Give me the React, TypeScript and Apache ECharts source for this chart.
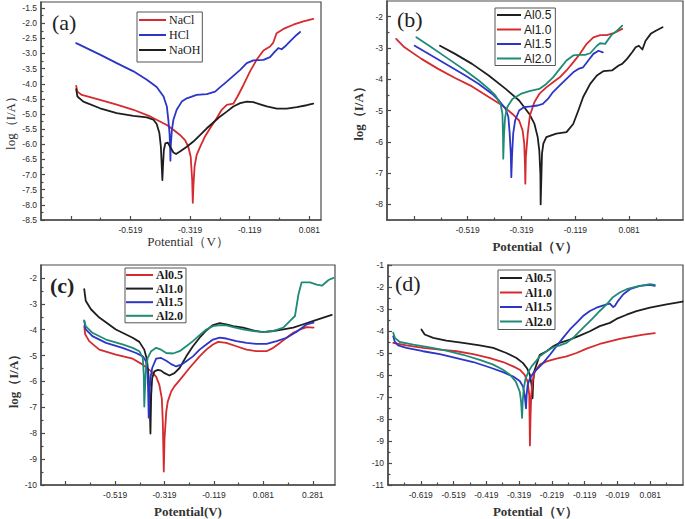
import React, { useEffect, useRef } from 'react';
import * as echarts from 'echarts';

// ---------- data: [potential (V), log(I/A)] ----------
const aNaCl = [[-0.701,-4.07],[-0.697,-4.26],[-0.682,-4.37],[-0.621,-4.53],[-0.565,-4.69],[-0.509,-4.86],[-0.453,-5.08],[-0.397,-5.36],[-0.375,-5.52],[-0.353,-5.69],[-0.336,-5.86],[-0.325,-6.08],[-0.317,-6.41],[-0.312,-7.18],[-0.310,-7.93],[-0.308,-7.40],[-0.304,-6.74],[-0.297,-6.35],[-0.285,-6.08],[-0.269,-5.74],[-0.252,-5.47],[-0.230,-5.14],[-0.213,-4.86],[-0.196,-4.70],[-0.174,-4.66],[-0.160,-4.42],[-0.140,-4.04],[-0.118,-3.59],[-0.096,-3.21],[-0.073,-2.90],[-0.051,-2.77],[-0.040,-2.64],[-0.029,-2.33],[-0.006,-2.19],[0.027,-2.05],[0.061,-1.94],[0.094,-1.86]];
const aHCl = [[-0.701,-2.66],[-0.621,-3.04],[-0.565,-3.32],[-0.509,-3.59],[-0.464,-3.87],[-0.431,-4.11],[-0.408,-4.42],[-0.397,-4.75],[-0.392,-5.19],[-0.388,-5.63],[-0.386,-6.08],[-0.385,-6.54],[-0.384,-6.08],[-0.380,-5.52],[-0.375,-5.19],[-0.364,-4.86],[-0.347,-4.59],[-0.330,-4.48],[-0.297,-4.37],[-0.263,-4.34],[-0.235,-4.26],[-0.218,-4.11],[-0.196,-3.93],[-0.174,-3.74],[-0.151,-3.54],[-0.129,-3.32],[-0.107,-3.23],[-0.073,-3.21],[-0.051,-3.12],[-0.034,-2.93],[-0.023,-2.82],[-0.012,-2.86],[-0.001,-2.77],[0.016,-2.60],[0.039,-2.38],[0.050,-2.29]];
const aNaOH = [[-0.701,-4.18],[-0.697,-4.42],[-0.677,-4.59],[-0.621,-4.81],[-0.565,-4.97],[-0.509,-5.06],[-0.464,-5.11],[-0.442,-5.19],[-0.431,-5.33],[-0.422,-5.63],[-0.417,-6.08],[-0.414,-6.74],[-0.412,-7.18],[-0.410,-6.74],[-0.407,-6.19],[-0.402,-5.97],[-0.394,-5.94],[-0.386,-6.08],[-0.375,-6.27],[-0.366,-6.32],[-0.353,-6.24],[-0.330,-6.08],[-0.308,-5.91],[-0.285,-5.69],[-0.263,-5.47],[-0.241,-5.28],[-0.218,-5.08],[-0.196,-4.92],[-0.174,-4.75],[-0.151,-4.64],[-0.129,-4.59],[-0.107,-4.61],[-0.084,-4.68],[-0.062,-4.75],[-0.028,-4.82],[0.005,-4.82],[0.039,-4.77],[0.072,-4.71],[0.094,-4.66]];

const bAl05 = [[-0.622,-2.93],[-0.566,-3.19],[-0.503,-3.51],[-0.441,-3.88],[-0.378,-4.31],[-0.328,-4.68],[-0.290,-5.11],[-0.271,-5.43],[-0.259,-5.85],[-0.253,-6.28],[-0.249,-7.02],[-0.248,-8.0],[-0.245,-7.02],[-0.243,-6.38],[-0.238,-6.06],[-0.227,-5.85],[-0.190,-5.74],[-0.152,-5.69],[-0.127,-5.43],[-0.108,-5.0],[-0.090,-4.57],[-0.064,-4.15],[-0.039,-3.88],[-0.014,-3.74],[0.017,-3.72],[0.042,-3.56],[0.055,-3.51],[0.073,-3.35],[0.092,-3.14],[0.105,-2.98],[0.117,-2.93],[0.130,-3.05],[0.142,-2.77],[0.161,-2.55],[0.180,-2.45],[0.205,-2.34]];
const bAl10 = [[-0.785,-2.71],[-0.754,-2.98],[-0.691,-3.35],[-0.629,-3.67],[-0.566,-3.96],[-0.503,-4.23],[-0.441,-4.57],[-0.390,-4.84],[-0.353,-5.11],[-0.328,-5.32],[-0.315,-5.64],[-0.309,-6.06],[-0.306,-6.81],[-0.305,-7.34],[-0.303,-6.49],[-0.296,-5.74],[-0.288,-5.16],[-0.271,-4.73],[-0.253,-4.47],[-0.227,-4.26],[-0.202,-4.10],[-0.177,-3.94],[-0.152,-3.72],[-0.127,-3.46],[-0.102,-3.19],[-0.077,-2.87],[-0.052,-2.66],[-0.027,-2.59],[-0.002,-2.59],[0.023,-2.53],[0.055,-2.39]];
const bAl15 = [[-0.716,-2.93],[-0.654,-3.24],[-0.591,-3.56],[-0.528,-3.88],[-0.478,-4.15],[-0.428,-4.47],[-0.403,-4.68],[-0.378,-4.95],[-0.368,-5.21],[-0.363,-5.74],[-0.359,-6.38],[-0.357,-7.13],[-0.354,-6.38],[-0.350,-5.74],[-0.343,-5.32],[-0.328,-5.0],[-0.309,-4.89],[-0.284,-4.87],[-0.259,-4.84],[-0.240,-4.79],[-0.221,-4.63],[-0.202,-4.41],[-0.177,-4.20],[-0.152,-3.99],[-0.127,-3.78],[-0.108,-3.67],[-0.090,-3.62],[-0.071,-3.40],[-0.052,-3.19],[-0.033,-3.09],[-0.017,-3.14]];
const bAl20 = [[-0.710,-2.66],[-0.654,-2.98],[-0.591,-3.35],[-0.528,-3.72],[-0.478,-4.04],[-0.441,-4.31],[-0.416,-4.52],[-0.397,-4.79],[-0.390,-5.11],[-0.388,-5.74],[-0.387,-6.54],[-0.384,-5.74],[-0.380,-5.21],[-0.372,-4.89],[-0.353,-4.63],[-0.322,-4.47],[-0.290,-4.38],[-0.253,-4.31],[-0.227,-4.15],[-0.202,-3.94],[-0.177,-3.67],[-0.152,-3.40],[-0.127,-3.24],[-0.108,-3.22],[-0.083,-3.22],[-0.064,-3.17],[-0.039,-2.93],[-0.027,-2.85],[-0.008,-2.87],[0.005,-2.71],[0.017,-2.57],[0.036,-2.45],[0.055,-2.29]];

const cAl05 = [[-0.644,-3.86],[-0.640,-4.18],[-0.624,-4.44],[-0.583,-4.77],[-0.516,-4.96],[-0.448,-5.12],[-0.407,-5.35],[-0.373,-5.61],[-0.353,-5.81],[-0.340,-6.13],[-0.330,-6.65],[-0.326,-7.56],[-0.322,-9.48],[-0.319,-8.21],[-0.312,-7.17],[-0.306,-6.78],[-0.292,-6.39],[-0.279,-6.19],[-0.251,-5.87],[-0.218,-5.48],[-0.177,-5.03],[-0.150,-4.77],[-0.123,-4.57],[-0.102,-4.47],[-0.069,-4.51],[-0.028,-4.64],[0.013,-4.77],[0.053,-4.83],[0.094,-4.83],[0.121,-4.70],[0.148,-4.51],[0.175,-4.31],[0.202,-4.12],[0.230,-3.99],[0.257,-3.90],[0.284,-3.92]];
const cAl10 = [[-0.644,-2.43],[-0.638,-2.88],[-0.617,-3.21],[-0.583,-3.53],[-0.516,-3.99],[-0.448,-4.31],[-0.421,-4.47],[-0.401,-4.77],[-0.390,-5.16],[-0.384,-5.74],[-0.380,-6.52],[-0.376,-8.01],[-0.373,-6.52],[-0.369,-5.87],[-0.360,-5.61],[-0.346,-5.55],[-0.333,-5.58],[-0.319,-5.68],[-0.299,-5.77],[-0.279,-5.68],[-0.258,-5.48],[-0.231,-5.03],[-0.204,-4.64],[-0.177,-4.31],[-0.150,-4.03],[-0.123,-3.82],[-0.096,-3.75],[-0.069,-3.79],[-0.041,-3.86],[-0.001,-3.92],[0.040,-4.03],[0.080,-4.09],[0.121,-4.05],[0.162,-3.99],[0.202,-3.92],[0.243,-3.79],[0.284,-3.66],[0.324,-3.53],[0.358,-3.43]];
const cAl15 = [[-0.644,-3.66],[-0.638,-3.99],[-0.611,-4.25],[-0.556,-4.51],[-0.489,-4.70],[-0.434,-4.90],[-0.407,-5.03],[-0.394,-5.22],[-0.387,-5.74],[-0.385,-6.52],[-0.383,-7.40],[-0.380,-6.52],[-0.376,-5.87],[-0.369,-5.48],[-0.353,-5.12],[-0.333,-5.09],[-0.312,-5.20],[-0.292,-5.33],[-0.272,-5.42],[-0.251,-5.35],[-0.231,-5.22],[-0.204,-5.03],[-0.177,-4.77],[-0.150,-4.57],[-0.123,-4.38],[-0.096,-4.31],[-0.069,-4.34],[-0.028,-4.44],[0.013,-4.51],[0.053,-4.55],[0.094,-4.55],[0.135,-4.44],[0.175,-4.31],[0.216,-4.08],[0.257,-3.79],[0.284,-3.73]];
const cAl20 = [[-0.644,-3.64],[-0.638,-3.86],[-0.611,-4.12],[-0.556,-4.38],[-0.489,-4.57],[-0.448,-4.70],[-0.421,-4.83],[-0.407,-5.09],[-0.403,-5.74],[-0.401,-6.97],[-0.398,-6.26],[-0.394,-5.48],[-0.387,-5.09],[-0.373,-4.83],[-0.353,-4.70],[-0.333,-4.77],[-0.312,-4.90],[-0.285,-4.92],[-0.258,-4.83],[-0.231,-4.64],[-0.204,-4.44],[-0.177,-4.21],[-0.150,-3.99],[-0.123,-3.86],[-0.096,-3.82],[-0.069,-3.83],[-0.041,-3.90],[-0.001,-3.99],[0.040,-4.05],[0.080,-4.09],[0.121,-4.05],[0.162,-3.92],[0.189,-3.66],[0.209,-3.47],[0.223,-2.64],[0.236,-2.17],[0.270,-2.17],[0.297,-2.26],[0.318,-2.30],[0.345,-2.08],[0.365,-2.00]];

const dAl05 = [[-0.617,-3.93],[-0.607,-4.16],[-0.581,-4.31],[-0.541,-4.44],[-0.490,-4.54],[-0.439,-4.65],[-0.398,-4.77],[-0.358,-5.0],[-0.327,-5.23],[-0.307,-5.46],[-0.295,-5.69],[-0.286,-5.99],[-0.281,-6.45],[-0.278,-7.06],[-0.276,-6.30],[-0.273,-5.84],[-0.266,-5.53],[-0.256,-5.08],[-0.235,-4.92],[-0.215,-4.69],[-0.195,-4.54],[-0.164,-4.39],[-0.134,-4.21],[-0.103,-4.01],[-0.073,-3.78],[-0.042,-3.63],[-0.022,-3.45],[0.009,-3.26],[0.039,-3.10],[0.080,-2.94],[0.131,-2.79],[0.180,-2.66]];
const dAl10 = [[-0.703,-4.54],[-0.663,-4.65],[-0.612,-4.77],[-0.561,-4.85],[-0.510,-4.92],[-0.459,-5.05],[-0.408,-5.23],[-0.368,-5.41],[-0.337,-5.61],[-0.317,-5.76],[-0.302,-5.99],[-0.293,-6.30],[-0.288,-6.91],[-0.286,-9.20],[-0.284,-7.82],[-0.282,-6.91],[-0.278,-6.30],[-0.271,-5.84],[-0.256,-5.53],[-0.235,-5.38],[-0.205,-5.26],[-0.174,-5.15],[-0.144,-5.00],[-0.113,-4.80],[-0.073,-4.59],[-0.042,-4.47],[-0.012,-4.36],[0.029,-4.24],[0.060,-4.16],[0.095,-4.10]];
const dAl15 = [[-0.703,-4.24],[-0.698,-4.50],[-0.688,-4.65],[-0.663,-4.77],[-0.612,-4.92],[-0.561,-5.05],[-0.510,-5.23],[-0.459,-5.41],[-0.408,-5.66],[-0.368,-5.87],[-0.337,-6.07],[-0.317,-6.27],[-0.307,-6.53],[-0.302,-6.91],[-0.298,-7.52],[-0.296,-6.91],[-0.293,-6.45],[-0.286,-6.15],[-0.276,-5.92],[-0.261,-5.69],[-0.246,-5.46],[-0.225,-5.08],[-0.205,-4.69],[-0.185,-4.31],[-0.164,-3.93],[-0.144,-3.63],[-0.124,-3.32],[-0.103,-3.09],[-0.083,-2.94],[-0.052,-2.79],[-0.042,-2.76],[-0.032,-2.91],[-0.027,-2.86],[-0.017,-2.63],[-0.001,-2.33],[0.019,-2.10],[0.049,-1.95],[0.080,-1.90],[0.095,-1.95]];
const dAl20 = [[-0.703,-4.08],[-0.698,-4.31],[-0.683,-4.50],[-0.642,-4.62],[-0.592,-4.74],[-0.541,-4.89],[-0.490,-5.08],[-0.439,-5.31],[-0.398,-5.53],[-0.368,-5.76],[-0.347,-5.99],[-0.329,-6.30],[-0.317,-6.76],[-0.313,-7.21],[-0.310,-7.95],[-0.308,-7.21],[-0.305,-6.60],[-0.299,-6.15],[-0.290,-5.84],[-0.281,-5.61],[-0.268,-5.38],[-0.256,-5.15],[-0.235,-4.92],[-0.215,-4.74],[-0.195,-4.65],[-0.174,-4.54],[-0.154,-4.31],[-0.134,-4.01],[-0.113,-3.70],[-0.093,-3.40],[-0.073,-3.09],[-0.052,-2.79],[-0.032,-2.45],[-0.012,-2.25],[0.009,-2.10],[0.039,-1.98],[0.080,-1.87],[0.095,-1.90]];

// ---------- tick values ----------
const aXMajor = [-0.719, -0.519, -0.319, -0.119, 0.081];
const aXLabels = [-0.519, -0.319, -0.119, 0.081];
const aXMinor = [-0.619, -0.419, -0.219, -0.019];
const aYMajor = [-8.5, -8.0, -7.5, -7.0, -6.5, -6.0, -5.5, -5.0, -4.5, -4.0, -3.5, -3.0, -2.5, -2.0, -1.5];
const aYMinor = [-8.25, -7.75, -7.25, -6.75, -6.25, -5.75, -5.25, -4.75, -4.25, -3.75, -3.25, -2.75, -2.25, -1.75];

const bXMajor = [-0.719, -0.519, -0.319, -0.119, 0.081];
const bXLabels = [-0.519, -0.319, -0.119, 0.081];
const bXMinor = [-0.619, -0.419, -0.219, -0.019, 0.181];
const bYMajor = [-8, -7, -6, -5, -4, -3, -2];
const bYMinor = [-7.5, -6.5, -5.5, -4.5, -3.5, -2.5];

const cXMajor = [-0.719, -0.519, -0.319, -0.119, 0.081, 0.281];
const cXLabels = [-0.519, -0.319, -0.119, 0.081, 0.281];
const cXMinor = [-0.619, -0.419, -0.219, -0.019, 0.181];
const cYMajor = [-10, -9, -8, -7, -6, -5, -4, -3, -2];
const cYMinor = [-9.5, -8.5, -7.5, -6.5, -5.5, -4.5, -3.5, -2.5];

const dXMajor = [-0.619, -0.519, -0.419, -0.319, -0.219, -0.119, -0.019, 0.081];
const dXLabels = [-0.619, -0.519, -0.419, -0.319, -0.219, -0.119, -0.019, 0.081];
const dXMinor = [-0.669, -0.569, -0.469, -0.369, -0.269, -0.169, -0.069, 0.031, 0.131];
const dYMajor = [-11, -10, -9, -8, -7, -6, -5, -4, -3, -2, -1];
const dYMinor = [-10.5, -9.5, -8.5, -7.5, -6.5, -5.5, -4.5, -3.5, -2.5, -1.5];

const aNames = ['NaCl', 'HCl', 'NaOH'];
const alNames = ['Al0.5', 'Al1.0', 'Al1.5', 'Al2.0'];

const RED = '#d52a2e';
const BLUE = '#2c35c6';
const BLACK = '#1e1e1e';
const TEAL = '#1f8b77';
const AX = '#4a4a4a';
const SERIF = '"Liberation Serif", "Times New Roman", serif';
const SANS = '"Liberation Sans", Arial, sans-serif';

type Panel = {
  grid: { left: number; top: number; width: number; height: number };
  xMin: number; xMax: number; xMajor: number[]; xLabels: number[]; xMinor: number[];
  yMin: number; yMax: number; yMajor: number[]; yMinor: number[]; yDigits: number;
  xName: string; xNameGap: number; xNamePad: number[];
  yName: string; yNameGap: number; yNamePad: number[];
  nameWeight: string;
};

const panels: Panel[] = [
  { grid: { left: 41, top: 2, width: 280, height: 218 }, xMin: -0.819, xMax: 0.12, xMajor: aXMajor, xLabels: aXLabels, xMinor: aXMinor,
    yMin: -8.5, yMax: -1.3, yMajor: aYMajor, yMinor: aYMinor, yDigits: 1,
    xName: 'Potential（V）', xNameGap: 15, xNamePad: [0, 0, 0, 14], yName: 'log（I/A）', yNameGap: 24, yNamePad: [0, 18, 0, 0], nameWeight: 'normal' },
  { grid: { left: 387, top: 1, width: 296, height: 219 }, xMin: -0.819, xMax: 0.281, xMajor: bXMajor, xLabels: bXLabels, xMinor: bXMinor,
    yMin: -8.5, yMax: -1.5, yMajor: bYMajor, yMinor: bYMinor, yDigits: 0,
    xName: 'Potential（V）', xNameGap: 20, xNamePad: [0, 0, 0, 0], yName: 'log（I/A）', yNameGap: 22, yNamePad: [0, 0, 0, 0], nameWeight: 'bold' },
  { grid: { left: 41, top: 265, width: 294, height: 220 }, xMin: -0.819, xMax: 0.371, xMajor: cXMajor, xLabels: cXLabels, xMinor: cXMinor,
    yMin: -10, yMax: -1.5, yMajor: cYMajor, yMinor: cYMinor, yDigits: 0,
    xName: 'Potential(V)', xNameGap: 20, xNamePad: [0, 0, 0, 0], yName: 'log（I/A）', yNameGap: 21, yNamePad: [0, 6, 0, 0], nameWeight: 'bold' },
  { grid: { left: 388, top: 265, width: 295, height: 220 }, xMin: -0.719, xMax: 0.181, xMajor: dXMajor, xLabels: dXLabels, xMinor: dXMinor,
    yMin: -11, yMax: -1, yMajor: dYMajor, yMinor: dYMinor, yDigits: 0,
    xName: 'Potential（V）', xNameGap: 20, xNamePad: [0, 0, 0, 0], yName: '', yNameGap: 20, yNamePad: [0, 0, 0, 0], nameWeight: 'bold' },
];

const panelSeries = [
  { key: 'a', names: aNames, data: [aNaCl, aHCl, aNaOH], colors: [RED, BLUE, BLACK] },
  { key: 'b', names: alNames, data: [bAl05, bAl10, bAl15, bAl20], colors: [BLACK, RED, BLUE, TEAL] },
  { key: 'c', names: alNames, data: [cAl05, cAl10, cAl15, cAl20], colors: [RED, BLACK, BLUE, TEAL] },
  { key: 'd', names: alNames, data: [dAl05, dAl10, dAl15, dAl20], colors: [BLACK, RED, BLUE, TEAL] },
];

const legendLayout = [
  { left: 137, top: 12, padding: [2, 2, 6, 2], itemWidth: 27, itemGap: 3, font: SERIF, weight: 'normal', size: 12 },
  { left: 495, top: 8, padding: [1, 4, 1, 2], itemWidth: 24, itemGap: 2.5, font: SANS, weight: 'normal', size: 12 },
  { left: 125, top: 268, padding: [1, 3, 1, 1], itemWidth: 27, itemGap: 1.6, font: SERIF, weight: 'bold', size: 12 },
  { left: 498, top: 270, padding: [2, 3, 2, 2], itemWidth: 22, itemGap: 2.5, font: SERIF, weight: 'bold', size: 12 },
];

function buildOption() {
  const grid: any[] = [];
  const xAxis: any[] = [];
  const yAxis: any[] = [];
  const series: any[] = [];
  const legend: any[] = [];

  panels.forEach((p, gi) => {
    grid.push({ ...p.grid, show: true, borderColor: AX, borderWidth: 1.2, backgroundColor: 'transparent', containLabel: false, outerBoundsMode: 'none' });
    const nameStyle = { fontFamily: SERIF, fontSize: 13, color: '#333', fontWeight: p.nameWeight };
    xAxis.push({
      type: 'value', gridIndex: gi, position: 'bottom', min: p.xMin, max: p.xMax,
      axisLine: { show: true, onZero: false, lineStyle: { color: AX, width: 1.5 } },
      axisTick: { show: true, inside: true, length: 4, customValues: p.xMajor, lineStyle: { color: AX, width: 1.2 } },
      axisLabel: { show: true, customValues: p.xLabels, formatter: (v: number) => v.toFixed(3), fontFamily: SANS, fontSize: 8.5, color: '#2a2a2a', margin: 5 },
      splitLine: { show: false },
      name: p.xName, nameLocation: 'middle', nameGap: p.xNameGap,
      nameTextStyle: { ...nameStyle, padding: p.xNamePad },
    });
    xAxis.push({
      type: 'value', gridIndex: gi, position: 'bottom', min: p.xMin, max: p.xMax,
      axisLine: { show: false, onZero: false }, axisLabel: { show: false }, splitLine: { show: false },
      axisTick: { show: true, inside: true, length: 2.5, customValues: p.xMinor, lineStyle: { color: AX, width: 1.2 } },
    });
    yAxis.push({
      type: 'value', gridIndex: gi, position: 'left', min: p.yMin, max: p.yMax,
      axisLine: { show: true, onZero: false, lineStyle: { color: AX, width: 1.5 } },
      axisTick: { show: true, inside: true, length: 4, customValues: p.yMajor, lineStyle: { color: AX, width: 1.2 } },
      axisLabel: { show: true, customValues: p.yMajor, formatter: (v: number) => v.toFixed(p.yDigits), fontFamily: SANS, fontSize: 8.5, color: '#2a2a2a', margin: 4 },
      splitLine: { show: false },
      name: p.yName, nameLocation: 'middle', nameGap: p.yNameGap, nameRotate: 90,
      nameTextStyle: { ...nameStyle, padding: p.yNamePad },
    });
    yAxis.push({
      type: 'value', gridIndex: gi, position: 'left', min: p.yMin, max: p.yMax,
      axisLine: { show: false, onZero: false }, axisLabel: { show: false }, splitLine: { show: false },
      axisTick: { show: true, inside: true, length: 2.5, customValues: p.yMinor, lineStyle: { color: AX, width: 1.2 } },
    });

    const ps = panelSeries[gi];
    ps.names.forEach((n, si) => {
      series.push({
        type: 'line', name: ps.key + '|' + n, xAxisIndex: gi * 2, yAxisIndex: gi * 2,
        data: ps.data[si], symbol: 'none', showSymbol: false, smooth: false,
        lineStyle: { color: ps.colors[si], width: 1.8, join: 'round', cap: 'round' }, itemStyle: { color: ps.colors[si] },
        z: 3,
      });
    });
    const L = legendLayout[gi];
    legend.push({
      orient: 'vertical', left: L.left, top: L.top, padding: L.padding, itemWidth: L.itemWidth, itemHeight: 2, itemGap: L.itemGap,
      icon: 'rect',
      borderColor: '#555', borderWidth: 1, backgroundColor: '#fff', selectedMode: false,
      data: ps.names.map((n) => ps.key + '|' + n),
      formatter: (name: string) => name.split('|')[1],
      textStyle: { fontFamily: L.font, fontSize: L.size, fontWeight: L.weight, color: '#1a1a1a', padding: [0, 0, 0, -2] },
    });
  });

  const label = (t: string, left: number, top: number, bold: boolean) => ({
    type: 'text', left, top, z: 10,
    style: { text: t, fontFamily: SERIF, fontSize: 22, fontWeight: bold ? 'bold' : 'normal', fill: '#222' },
  });

  return {
    animation: false,
    backgroundColor: '#ffffff',
    grid, xAxis, yAxis, series, legend,
    graphic: [label('(a)', 52, 11, false), label('(b)', 397, 8, false), label('(c)', 50, 274, true), label('(d)', 395, 272, false)],
  };
}

export default function App() {
  const ref = useRef<HTMLDivElement>(null);
  useEffect(() => {
    if (!ref.current) return;
    const chart = echarts.init(ref.current, undefined, { renderer: 'svg' });
    chart.setOption(buildOption() as any);
    return () => chart.dispose();
  }, []);
  return <div ref={ref} style={{ position: 'absolute', left: 0, top: 0, width: 685, height: 519, background: '#fff' }} />;
}
